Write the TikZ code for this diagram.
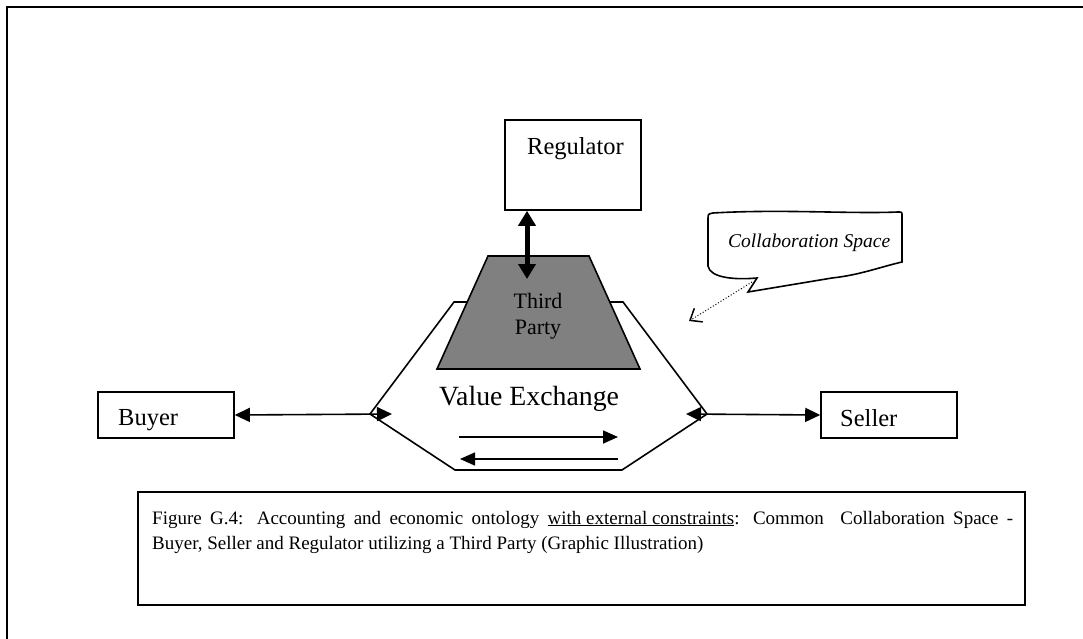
\documentclass[tikz,border=0pt]{standalone}
\usepackage{fontspec}
\setmainfont{Liberation Serif}
\usetikzlibrary{arrows.meta}
\newcommand{\fs}[1]{\fontsize{#1}{#1}\selectfont}
\begin{document}
\begin{tikzpicture}[x=1pt,y=-1pt,
  box/.style={draw,line width=1.6pt,fill=white},
  txt/.style={inner sep=0pt,anchor=base west},
  link/.style={line width=1.6pt,{Triangle[length=15pt,width=14pt]}-{Triangle[length=15pt,width=14pt]}},
  flow/.style={line width=1.6pt,-{Triangle[length=15pt,width=13pt]}},
  bold/.style={line width=5pt,{Triangle[length=15pt,width=17pt]}-{Triangle[length=15pt,width=17pt]}},
  hint/.style={line width=1pt,dotted,-{Straight Barb[length=10pt,width=16pt,line width=1.5pt,sharp]}}]
\useasboundingbox (0,0) rectangle (1083,639);
% page frame, running off the right and bottom edges
\draw[line width=2.5pt] (7,639) -- (7,7) -- (1083,7);

% value-exchange hexagon with the third party sitting on it
\draw[line width=1.6pt,fill=white] (454,302) -- (623,302) -- (707,414) -- (622,470) -- (455,470) -- (370,414) -- cycle;
\draw[line width=1.6pt,fill=black!50] (488,256) -- (589,256) -- (640,369) -- (437,369) -- cycle;
\node[align=center,inner sep=0pt,font=\fs{22}] (tp) at (538,316) {Third\\[4pt]Party};
\coordinate (tpTop) at (527,279);

% participants
\node[box,minimum width=136pt,minimum height=90pt] (reg) at (573,165) {};
\node[txt,font=\fs{24.5}] (regT) at (527,155) {Regulator};
\node[box,minimum width=136pt,minimum height=46pt] (buyer) at (166,415) {};
\node[txt,font=\fs{24.5}] (buyerT) at (118,425) {Buyer};
\node[box,minimum width=136pt,minimum height=46pt] (seller) at (889,415) {};
\node[txt,font=\fs{24.5}] (sellerT) at (840,426) {Seller};

% connectors
\coordinate (bIn) at (392,414);
\coordinate (sIn) at (686,414);
\draw[link] (buyer.east) -- (bIn);
\draw[link] (sIn) -- (seller.west);
\draw[bold] ([xshift=-46pt]reg.south) -- (tpTop);

% exchange inside the hexagon
\node[txt,font=\fs{27.8}] (vx) at (439,405) {Value Exchange};
\coordinate (fa) at (459,437);
\coordinate (fb) at (618,437);
\coordinate (ga) at (618,459);
\coordinate (gb) at (460,459);
\draw[flow] (fa) -- (fb);
\draw[flow] (ga) -- (gb);

% collaboration-space callout
\draw[line width=1.6pt,fill=white] (713,213) .. controls (780,209) and (850,214) .. (898,212) .. controls (902,212) .. (902,216) -- (902,262)
  .. controls (880,267) and (860,275) .. (832,278) -- (748,292) -- (757,278)
  .. controls (735,280) and (710,278) .. (708,266) -- (708,219) .. controls (708,214) .. (713,213) -- cycle;
\node[txt,font=\itshape\fs{19.5}] (cs) at (728,247) {Collaboration Space};
\coordinate (csTip) at (752,282);
\coordinate (csAim) at (689,321);
\draw[hint] (csTip) -- (csAim);

% caption
\node[box,line width=1.4pt,minimum width=887pt,minimum height=113pt] (cap) at (581.5,548.5) {};
\node[txt,font=\fs{19}] (cap1) at (152,524) {\hbox to 861pt{Figure G.4: Accounting and economic ontology \underline{with external constraints}: Common\ \ Collaboration Space -}};
\node[txt,font=\fs{19}] (cap2) at (152,549) {Buyer, Seller and Regulator utilizing a Third Party (Graphic Illustration)};
\end{tikzpicture}
\end{document}
